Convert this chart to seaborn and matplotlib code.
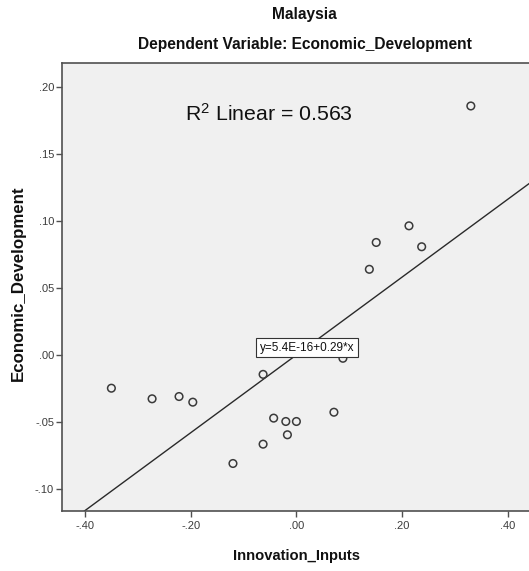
import numpy as np
import pandas as pd
import matplotlib
matplotlib.use("Agg")
import matplotlib.pyplot as plt
import seaborn as sns

# Observations: Innovation_Inputs vs Economic_Development (Malaysia)
innovation_inputs = [0.330, 0.213, 0.151, 0.237, 0.138, 0.088, -0.063,
                     -0.350, -0.273, -0.222, -0.196, -0.043, -0.020, -0.000,
                     0.071, -0.017, -0.063, -0.120]
economic_development = [0.1855, 0.0962, 0.0838, 0.0806, 0.0638, -0.0025, -0.0145,
                        -0.0248, -0.0327, -0.0310, -0.0352, -0.0471, -0.0496, -0.0496,
                        -0.0427, -0.0595, -0.0665, -0.0809]

# Fitted linear model as reported
intercept = 5.4e-16
slope = 0.29
r_squared = 0.563

x_ticks = [-0.40, -0.20, 0.00, 0.20, 0.40]
x_tick_labels = ["-.40", "-.20", ".00", ".20", ".40"]
y_ticks = [-0.10, -0.05, 0.00, 0.05, 0.10, 0.15, 0.20]
y_tick_labels = ["-.10", "-.05", ".00", ".05", ".10", ".15", ".20"]

x_range = (-0.444, 0.476)
y_range = (-0.1163, 0.2173)

df = pd.DataFrame({"Innovation_Inputs": innovation_inputs,
                   "Economic_Development": economic_development})

sns.set_theme(style="white")
plt.rcParams["font.family"] = ["Liberation Sans", "DejaVu Sans"]
plt.rcParams["mathtext.fontset"] = "custom"
plt.rcParams["mathtext.rm"] = "Liberation Sans"
plt.rcParams["mathtext.default"] = "regular"

W, H = 529, 571
fig = plt.figure(figsize=(W / 100, H / 100), dpi=100)
fig.patch.set_facecolor("white")
left_px, right_px, top_px, bottom_px = 61.7, 548.0, 63.3, 511.0
ax_w_px = right_px - left_px
ax = fig.add_axes([left_px / W, 1 - bottom_px / H,
                   ax_w_px / W, (bottom_px - top_px) / H])
ax.set_facecolor("#f0f0f0")

# Fit line from the reported coefficients
line_x = np.array(x_range)
line_df = pd.DataFrame({"x": line_x, "y": intercept + slope * line_x})
sns.lineplot(data=line_df, x="x", y="y", ax=ax, color="#2a2a2a", linewidth=1.0,
             zorder=2)

sns.scatterplot(data=df, x="Innovation_Inputs", y="Economic_Development", ax=ax,
                marker="o", s=30, facecolors="none", edgecolor="#3a3a3a",
                linewidth=1.1, zorder=3)

ax.set_xlim(*x_range)
ax.set_ylim(*y_range)
ax.set_xticks(x_ticks)
ax.set_xticklabels(x_tick_labels)
ax.set_yticks(y_ticks)
ax.set_yticklabels(y_tick_labels)
ax.tick_params(axis="both", direction="out", length=4.5, width=1.0, color="#505050",
               labelsize=8, labelcolor="#3c3c3c", bottom=True, left=True)
ax.tick_params(axis="x", pad=3)
ax.tick_params(axis="y", pad=1)

for side in ["left", "bottom", "top", "right"]:
    ax.spines[side].set_color("#505050")
    ax.spines[side].set_linewidth(1.2)

ax.set_xlabel("Innovation_Inputs", fontsize=10.6, fontweight="bold",
              color="#111111", va="center")
ax.xaxis.set_label_coords((296.5 - left_px) / ax_w_px,
                          -(556 - bottom_px) / (bottom_px - top_px))
ax.set_ylabel("Economic_Development", fontsize=12.2, fontweight="bold",
              color="#111111", va="center")
ax.yaxis.set_label_coords((18.5 - left_px) / ax_w_px,
                          (bottom_px - 283.5) / (bottom_px - top_px))

fig.text(304 / W, 1 - 14 / H, "Malaysia", ha="center", va="center",
         fontsize=11.2, fontweight="bold", color="#111111")
fig.text(305 / W, 1 - 45 / H, "Dependent Variable: Economic_Development",
         ha="center", va="center", fontsize=11.2, fontweight="bold",
         color="#111111")

ax.text(-0.211, 0.180, "R$^{2}$ Linear = " + f"{r_squared:.3f}", fontsize=15.3,
        color="#111111", ha="left", va="center")

ax.text(0.02, 0.0052, f"y={intercept:.1E}+{slope:.2f}*x", fontsize=8.5,
        color="#111111", ha="center", va="center", zorder=4,
        bbox=dict(boxstyle="square,pad=0.3", facecolor="white",
                  edgecolor="#333333", linewidth=0.8))

fig.savefig("out.png", dpi=100)
